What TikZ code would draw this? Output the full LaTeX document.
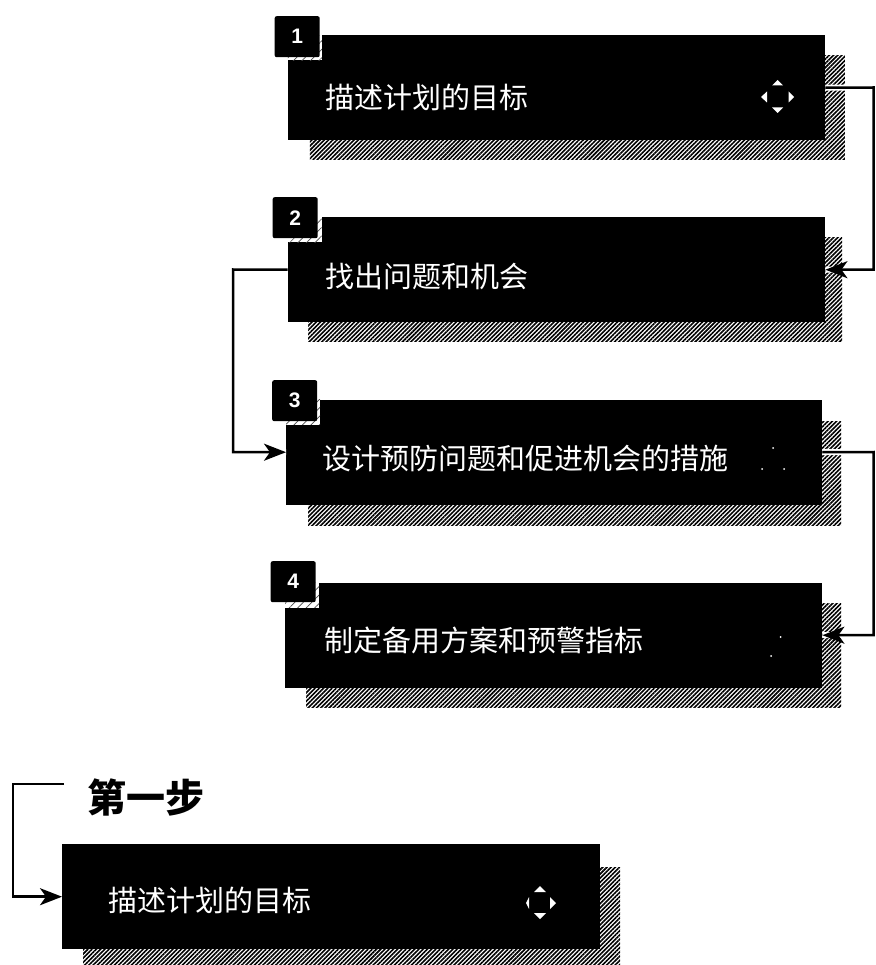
\documentclass[tikz,border=0pt]{standalone}
\usepackage{fontspec}
\setmainfont{Liberation Sans}
\newfontfamily\cjk{Noto Sans CJK SC}
\usetikzlibrary{arrows.meta,patterns.meta,positioning}
\tikzset{
  stepbox/.style={fill=black,inner sep=0pt,anchor=north west,minimum width=#1,minimum height=105pt},
  hatchbox/.style={pattern={Lines[angle=45,distance=3pt,line width=1.6pt]},pattern color=black,inner sep=0pt,anchor=north west,minimum width=#1,minimum height=104pt},
  halo/.style={preaction={fill=white},pattern={Lines[angle=45,distance=6pt,line width=.7pt]},pattern color=black!70,inner sep=0pt,anchor=north west,minimum width=34pt,minimum height=25pt},
  badge/.style={fill=black,rounded corners=2pt,inner sep=0pt,minimum width=45pt,minimum height=41pt,anchor=north west,text=white,font=\bfseries\fontsize{21}{21}\selectfont},
  steplabel/.style={anchor=west,inner sep=0pt,text=white,font=\cjk\fontsize{29}{29}\selectfont},
  titlelabel/.style={anchor=west,inner sep=0pt,text=black,font=\cjk\bfseries\fontsize{39}{39}\selectfont},
  link/.style={line width=2.5pt,draw=black,preaction={draw=white,line width=6pt,-},-{Stealth[length=22pt,width=17pt,inset=6pt]}},
  tri/.style={fill=white},
  speck/.style={fill=white}
}
\begin{document}
\begin{tikzpicture}[x=1pt,y=-1pt]
\useasboundingbox (0,0) rectangle (875,965);
\fill[white] (0,0) rectangle (875,965);
% shadows
\node[hatchbox=535pt] (s1) at (309,55) {};
\node[hatchbox=534pt] (s2) at (308,237) {};
\node[hatchbox=533pt] (s3) at (308,421) {};
\node[hatchbox=535pt] (s4) at (306,603) {};
\begin{scope}
\clip (0,0) rectangle (875,965);
\node[hatchbox=537pt] (s5) at (83,867) {};
\end{scope}
% boxes
\node[stepbox=537.5pt] (b1) at (287.5,35) {};
\node[stepbox=537.5pt] (b2) at (287.5,217) {};
\node[stepbox=536pt] (b3) at (286,399.5) {};
\node[stepbox=537pt] (b4) at (285,582.5) {};
\node[stepbox=538pt] (b5) at (62,844) {};
% badges
\node[halo] (h1) at (287.5,35) {};
\node[halo] (h2) at (287.5,217) {};
\node[halo] (h3) at (286,399.5) {};
\node[halo] (h4) at (285,582.5) {};
\node[badge] (n1) at (274.5,16) {1};
\node[badge] (n2) at (272.5,197) {2};
\node[badge] (n3) at (272,380) {3};
\node[badge] (n4) at (270.5,561) {4};
% labels
\node[steplabel] (l1) at (325,97) {描述计划的目标};
\node[steplabel] (l2) at (325,276) {找出问题和机会};
\node[steplabel] (l3) at (322,458) {设计预防问题和促进机会的措施};
\node[steplabel] (l4) at (324,640) {制定备用方案和预警指标};
\node[steplabel] (l5) at (108,900) {描述计划的目标};
\node[titlelabel] (t) at (87,797) {第一步};
% icons
\fill[tri] (777.5,80) -- (783,85.5) -- (772,85.5) -- cycle;
\fill[tri] (777.5,113) -- (783,107.5) -- (772,107.5) -- cycle;
\fill[tri] (761,97) -- (767,91.5) -- (767,102.5) -- cycle;
\fill[tri] (794,97) -- (788.5,91.5) -- (788.5,102.5) -- cycle;
\fill[tri] (540,886) -- (546,892) -- (534,892) -- cycle;
\fill[tri] (540,919) -- (546,913) -- (534,913) -- cycle;
\fill[tri] (526,903) -- (529,897) -- (529,909) -- cycle;
\fill[tri] (556,903) -- (550,897) -- (550,909) -- cycle;
\fill[speck] (773,448) circle (1pt) (762,469) circle (1pt) (784,469) circle (1pt);
\fill[speck] (780.5,637) circle (1pt) (771,656) circle (1pt);
% connector corners
\coordinate (r1) at (873.5,87.5);
\coordinate (r2) at (233,269.5);
\coordinate (r3) at (873.5,452);
\coordinate (c5) at (64,784);
\coordinate (r5) at (13,784);
% connectors
\draw[link] (b1.east) -- (r1) |- (b2.east);
\draw[link] (b2.west) -- (r2) |- (b3.west);
\draw[link] (b3.east) -- (r3) |- (b4.east);
\draw[link] (c5) -- (r5) |- (b5.west);
\end{tikzpicture}
\end{document}
